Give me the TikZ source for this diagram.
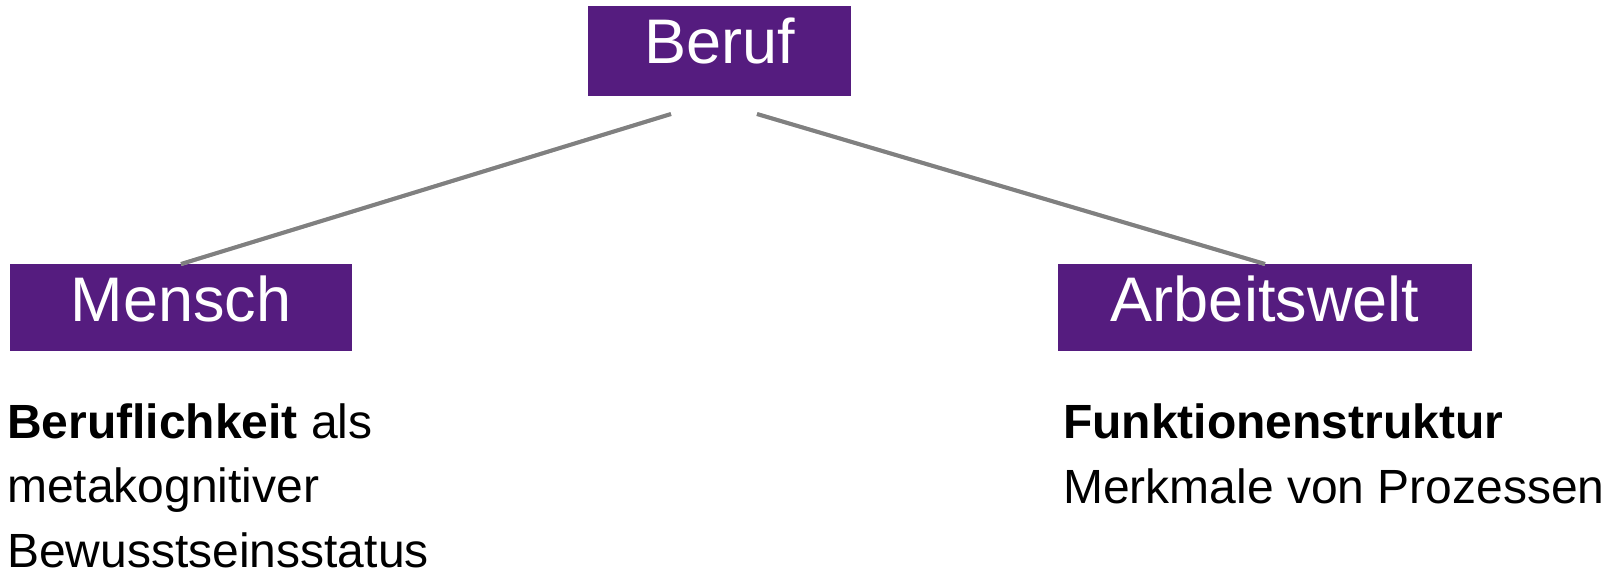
\documentclass[tikz,border=0pt]{standalone}
\usepackage{fontspec}
\setmainfont{Liberation Sans}
\definecolor{boxpurple}{RGB}{85,28,127}
\definecolor{linegray}{RGB}{128,128,128}
\definecolor{shadegray}{RGB}{205,205,205}
\begin{document}
\begin{tikzpicture}[x=1pt,y=-1pt,
  topicbox/.style={fill=boxpurple,text=white,inner sep=0pt,
    font=\fontsize{63}{63}\selectfont,text height=57pt},
  linkline/.style={draw=linegray,line width=4pt},
  linkshade/.style={draw=shadegray,line width=4pt},
  bodytext/.style={anchor=base west,inner sep=0pt,align=left,
    font=\fontsize{48}{64.5}\selectfont}]
  \useasboundingbox (0,0) rectangle (1624,573);

  % purple topic boxes
  \node[topicbox,minimum width=263pt,text depth=33pt,anchor=north] (beruf) at (719.5,6) {Beruf};
  \node[topicbox,minimum width=342pt,text depth=30pt,anchor=north] (mensch) at (181,264) {Mensch};
  \node[topicbox,minimum width=414pt,text depth=30pt,anchor=north] (arbeit) at (1265,264) {Arbeitswelt};

  % upper ends of the two links, just below the top box
  \coordinate (bl) at (671,114);
  \coordinate (br) at (757,114);

  % links with a soft shadow underneath
  \begin{scope}[yshift=-3.5pt]
    \draw[linkshade] (bl) -- (mensch.north);
    \draw[linkshade] (br) -- (arbeit.north);
  \end{scope}
  \draw[linkline] (bl) -- (mensch.north);
  \draw[linkline] (br) -- (arbeit.north);

  % descriptions (anchored at the baseline of their last line)
  \node[bodytext] (mtext) at (7,567) {\textbf{Beruflichkeit} als\\metakognitiver\\Bewusstseinsstatus};
  \node[bodytext] (atext) at (1063,503) {\textbf{Funktionenstruktur}\\Merkmale von Prozessen};
\end{tikzpicture}
\end{document}
